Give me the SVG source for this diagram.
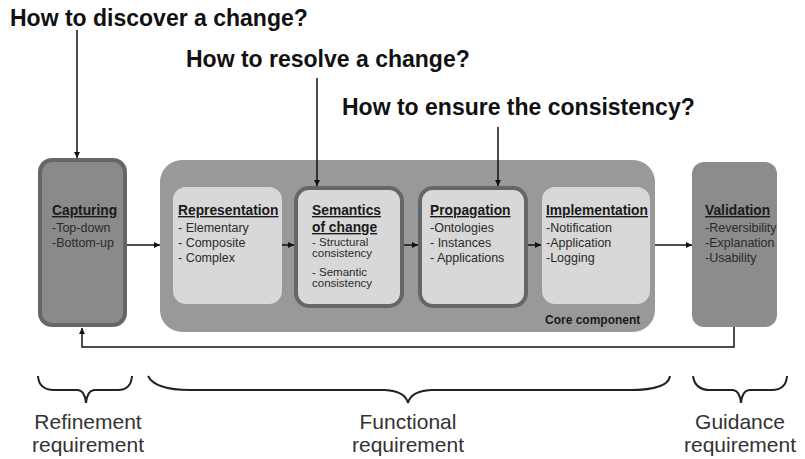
<svg xmlns="http://www.w3.org/2000/svg" width="805" height="459" viewBox="0 0 805 459">
<defs>
<style>
.q{font-family:"Liberation Sans",Arial,sans-serif;font-weight:bold;font-size:23px;fill:#111}
.t{font-family:"Liberation Sans",Arial,sans-serif;font-weight:bold;font-size:13.8px;fill:#1a1a1a;text-decoration:underline}
.i{font-family:"Liberation Sans",Arial,sans-serif;font-size:12.5px;fill:#2a2a2a}
.s{font-family:"Liberation Sans",Arial,sans-serif;font-size:11.5px;fill:#2a2a2a}
.b{font-family:"Liberation Sans",Arial,sans-serif;font-size:21px;fill:#333}
.ln{fill:none;stroke:#111;stroke-width:1.5}
.br{fill:none;stroke:#222;stroke-width:2}
</style>
<marker id="ah" viewBox="0 0 10 10" refX="10" refY="5" markerWidth="6" markerHeight="6" orient="auto" markerUnits="userSpaceOnUse">
<path d="M0,0 L10,5 L0,10 z" fill="#111"/>
</marker>
</defs>
<rect width="805" height="459" fill="#fff"/>

<g id="questions">
<text class="q" x="10" y="26">How to discover a change?</text>
<text class="q" x="186" y="67">How to resolve a change?</text>
<text class="q" x="342" y="115">How to ensure the consistency?</text>
</g>

<g id="core">
<rect x="160" y="160" width="495" height="172" rx="22" fill="#999"/>
<text x="545" y="324" font-family="Liberation Sans, Arial, sans-serif" font-weight="bold" font-size="12" fill="#1a1a1a">Core component</text>
</g>

<g id="capturing">
<rect x="40" y="160" width="85" height="165" rx="12" fill="#8a8a8a" stroke="#666" stroke-width="4"/>
<text class="t" x="52" y="215">Capturing</text>
<text class="i" x="52" y="232">-Top-down</text>
<text class="i" x="52" y="247">-Bottom-up</text>
</g>

<g id="representation">
<rect x="173" y="187" width="109" height="117" rx="13" fill="#d8d8d8"/>
<text class="t" x="178" y="215">Representation</text>
<text class="i" x="178" y="232">- Elementary</text>
<text class="i" x="178" y="247">- Composite</text>
<text class="i" x="178" y="262">- Complex</text>
</g>

<g id="semantics">
<rect x="296" y="188" width="106" height="118" rx="13" fill="#d8d8d8" stroke="#666" stroke-width="4"/>
<text class="t" x="312" y="215">Semantics</text>
<text class="t" x="312" y="232">of change</text>
<text class="s" x="312" y="246">- Structural</text>
<text class="s" x="312" y="257">consistency</text>
<text class="s" x="312" y="276">- Semantic</text>
<text class="s" x="312" y="287">consistency</text>
</g>

<g id="propagation">
<rect x="420" y="188" width="106" height="118" rx="13" fill="#d8d8d8" stroke="#666" stroke-width="4"/>
<text class="t" x="430" y="215">Propagation</text>
<text class="i" x="430" y="232">-Ontologies</text>
<text class="i" x="430" y="247">- Instances</text>
<text class="i" x="430" y="262">- Applications</text>
</g>

<g id="implementation">
<rect x="542" y="187" width="108" height="117" rx="13" fill="#d8d8d8"/>
<text class="t" x="546" y="215">Implementation</text>
<text class="i" x="546" y="232">-Notification</text>
<text class="i" x="546" y="247">-Application</text>
<text class="i" x="546" y="262">-Logging</text>
</g>

<g id="validation">
<rect x="692" y="162" width="85" height="165" rx="12" fill="#8c8c8c"/>
<text class="t" x="705" y="215">Validation</text>
<text class="i" x="705" y="232">-Reversibility</text>
<text class="i" x="705" y="247">-Explanation</text>
<text class="i" x="705" y="262">-Usability</text>
</g>

<g id="connectors">
<line class="ln" x1="77" y1="30" x2="77" y2="158" marker-end="url(#ah)"/>
<line class="ln" x1="317" y1="78" x2="317" y2="186" marker-end="url(#ah)"/>
<line class="ln" x1="498" y1="127" x2="498" y2="186" marker-end="url(#ah)"/>
<line class="ln" x1="127" y1="245" x2="160" y2="245" marker-end="url(#ah)"/>
<line class="ln" x1="282" y1="245" x2="294" y2="245" marker-end="url(#ah)"/>
<line class="ln" x1="404" y1="245" x2="418" y2="245" marker-end="url(#ah)"/>
<line class="ln" x1="528" y1="245" x2="541" y2="245" marker-end="url(#ah)"/>
<line class="ln" x1="655" y1="245" x2="692" y2="245" marker-end="url(#ah)"/>
<polyline class="ln" points="734,327 734,347 82,347 82,328" marker-end="url(#ah)"/>
</g>

<g id="braces">
<path class="br" d="M38,376 Q39,390 54,390 L78,390 Q85,391 86,403 Q87,391 94,390 L118,390 Q131,390 132,376"/>
<path class="br" d="M148,376 Q155,390 190,390 L385,390 Q405,391 408,403 Q411,391 431,390 L630,390 Q668,390 670,376"/>
<path class="br" d="M693,376 Q695,390 710,390 L733,390 Q740,391 741,403 Q742,391 749,390 L772,390 Q786,390 787,376"/>
</g>

<g id="labels">
<text class="b" x="88" y="429" text-anchor="middle">Refinement</text>
<text class="b" x="88" y="452" text-anchor="middle">requirement</text>
<text class="b" x="408" y="429" text-anchor="middle">Functional</text>
<text class="b" x="408" y="452" text-anchor="middle">requirement</text>
<text class="b" x="740" y="429" text-anchor="middle">Guidance</text>
<text class="b" x="740" y="452" text-anchor="middle">requirement</text>
</g>
</svg>
